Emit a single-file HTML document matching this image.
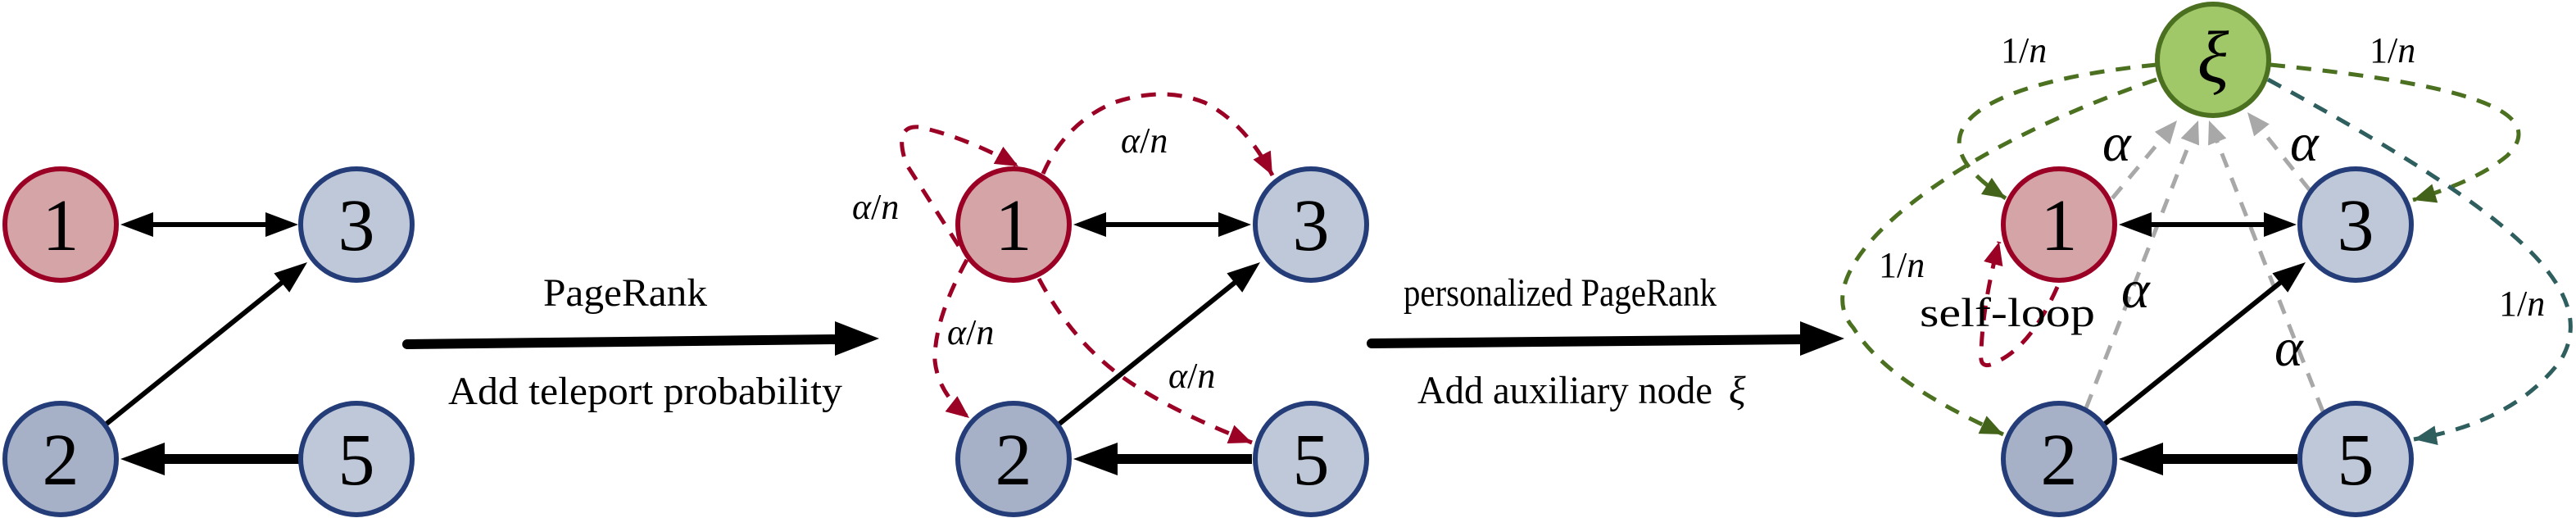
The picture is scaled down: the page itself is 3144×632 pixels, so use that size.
<!DOCTYPE html>
<html><head><meta charset="utf-8"><style>
html,body{margin:0;padding:0;background:#fff;}
svg{display:block;}
.num{font-size:90px;text-anchor:middle;}
.lab{font-size:44px;}
.it{font-style:italic;}
.big{font-size:48px;}
</style></head><body>
<svg width="3144" height="632" viewBox="0 0 3144 632" xmlns="http://www.w3.org/2000/svg" font-family="'Liberation Serif','DejaVu Serif',serif">
<defs>
<marker id="ar" markerUnits="userSpaceOnUse" markerWidth="30" markerHeight="26" refX="28" refY="12" orient="auto"><path d="M0,0 L28,12 L0,24 Z" fill="#9b0025"/></marker>
<marker id="ag" markerUnits="userSpaceOnUse" markerWidth="30" markerHeight="26" refX="28" refY="12" orient="auto"><path d="M0,0 L28,12 L0,24 Z" fill="#43621a"/></marker>
<marker id="at" markerUnits="userSpaceOnUse" markerWidth="30" markerHeight="26" refX="28" refY="12" orient="auto"><path d="M0,0 L28,12 L0,24 Z" fill="#2f5e5e"/></marker>
<marker id="agr" markerUnits="userSpaceOnUse" markerWidth="30" markerHeight="26" refX="28" refY="12" orient="auto"><path d="M0,0 L28,12 L0,24 Z" fill="#a8a8a8"/></marker>
<g id="blk">
<line x1="185" y1="274" x2="326" y2="274" stroke="#000" stroke-width="6"/>
<polygon points="147,274 187,259 187,289" fill="#000"/>
<polygon points="364,274 324,259 324,289" fill="#000"/>
<line x1="130" y1="517" x2="345" y2="344" stroke="#000" stroke-width="6"/>
<polygon points="375,320 353.2,356.8 334.4,333.4" fill="#000"/>
<line x1="365" y1="560" x2="198" y2="560" stroke="#000" stroke-width="12"/>
<polygon points="147,560 201,540 201,580" fill="#000"/>
</g>
</defs>

<!-- Panel 1 -->
<g>
<use href="#blk"/>
<circle cx="74" cy="274" r="68" fill="#d4a4a6" stroke="#9b0025" stroke-width="6"/>
<circle cx="435" cy="274" r="68" fill="#bfc8d8" stroke="#243d78" stroke-width="6"/>
<circle cx="74" cy="560" r="68" fill="#a6b1c8" stroke="#243d78" stroke-width="6"/>
<circle cx="435" cy="560" r="68" fill="#bfc8d8" stroke="#243d78" stroke-width="6"/>
<text class="num" x="74" y="305">1</text>
<text class="num" x="435" y="305">3</text>
<text class="num" x="74" y="591">2</text>
<text class="num" x="435" y="591">5</text>
</g>

<!-- Transition 1 -->
<line x1="497" y1="420" x2="1022" y2="414" stroke="#000" stroke-width="12" stroke-linecap="round"/>
<polygon points="1073,413 1019,392 1019,434" fill="#000"/>
<text class="big" x="663" y="373" textLength="200" lengthAdjust="spacingAndGlyphs">PageRank</text>
<text class="big" x="547" y="493" textLength="481" lengthAdjust="spacingAndGlyphs">Add teleport probability</text>

<!-- Panel 2 -->
<g>
<g fill="none" stroke="#9b0025" stroke-width="5" stroke-dasharray="18,14">
<path d="M1170,300 L1106,200 Q1090,152 1122,155 Q1180,168 1243,203" marker-end="url(#ar)"/>
<path d="M1273,212 Q1300,150 1360,125 Q1420,105 1470,125 Q1520,150 1553,214" marker-end="url(#ar)"/>
<path d="M1180,317 Q1140,390 1141,440 Q1145,480 1183,510" marker-end="url(#ar)"/>
<path d="M1268,340 Q1300,400 1345,440 Q1400,490 1528,540" marker-end="url(#ar)"/>
</g>
<use href="#blk" transform="translate(1163,0)"/>
<circle cx="1237" cy="274" r="68" fill="#d4a4a6" stroke="#9b0025" stroke-width="6"/>
<circle cx="1600" cy="274" r="68" fill="#bfc8d8" stroke="#243d78" stroke-width="6"/>
<circle cx="1237" cy="560" r="68" fill="#a6b1c8" stroke="#243d78" stroke-width="6"/>
<circle cx="1600" cy="560" r="68" fill="#bfc8d8" stroke="#243d78" stroke-width="6"/>
<text class="num" x="1237" y="305">1</text>
<text class="num" x="1600" y="305">3</text>
<text class="num" x="1237" y="591">2</text>
<text class="num" x="1600" y="591">5</text>
<text class="lab" x="1368" y="186"><tspan class="it">α</tspan>/<tspan class="it">n</tspan></text>
<text class="lab" x="1040" y="267"><tspan class="it">α</tspan>/<tspan class="it">n</tspan></text>
<text class="lab" x="1156" y="420"><tspan class="it">α</tspan>/<tspan class="it">n</tspan></text>
<text class="lab" x="1426" y="473"><tspan class="it">α</tspan>/<tspan class="it">n</tspan></text>
</g>

<!-- Transition 2 -->
<line x1="1674" y1="419" x2="2200" y2="414" stroke="#000" stroke-width="12" stroke-linecap="round"/>
<polygon points="2251,413 2197,392 2197,434" fill="#000"/>
<text class="big" x="1713" y="373" textLength="382" lengthAdjust="spacingAndGlyphs">personalized PageRank</text>
<text class="big" x="1730" y="492" textLength="360" lengthAdjust="spacingAndGlyphs">Add auxiliary node</text>
<text class="big it" x="2110" y="492">ξ</text>

<!-- Panel 3 -->
<g>
<g fill="none" stroke-width="5" stroke-dasharray="18,14">
<path d="M2632,79 C2420,100 2320,160 2448,242" stroke="#4b7020" marker-end="url(#ag)"/>
<path d="M2632,97 C2360,190 2200,330 2262,400 C2300,460 2380,500 2445,530" stroke="#4b7020" marker-end="url(#ag)"/>
<path d="M2771,79 C2980,100 3120,130 3060,190 C3030,215 2985,232 2945,244" stroke="#4b7020" marker-end="url(#ag)"/>
<path d="M2768,97 C3050,250 3180,350 3125,440 C3080,500 3010,525 2946,536" stroke="#2f5e5e" marker-end="url(#at)"/>
<path d="M2578,242 L2657,147" stroke="#a8a8a8" marker-end="url(#agr)"/>
<path d="M2546,498 L2683,147" stroke="#a8a8a8" marker-end="url(#agr)"/>
<path d="M2835,502 L2696,147" stroke="#a8a8a8" marker-end="url(#agr)"/>
<path d="M2819,232 L2743,137" stroke="#a8a8a8" marker-end="url(#agr)"/>
<path d="M2511,350 Q2480,420 2440,440 Q2415,455 2418,430 Q2420,370 2440,295" stroke="#9b0025" marker-end="url(#ar)"/>
</g>
<use href="#blk" transform="translate(2439,0)"/>
<circle cx="2701" cy="73" r="68" fill="#a0c868" stroke="#4b7020" stroke-width="6"/>
<circle cx="2513" cy="274" r="68" fill="#d4a4a6" stroke="#9b0025" stroke-width="6"/>
<circle cx="2875" cy="274" r="68" fill="#bfc8d8" stroke="#243d78" stroke-width="6"/>
<circle cx="2513" cy="560" r="68" fill="#a6b1c8" stroke="#243d78" stroke-width="6"/>
<circle cx="2875" cy="560" r="68" fill="#bfc8d8" stroke="#243d78" stroke-width="6"/>
<text class="num it" x="2701" y="100">ξ</text>
<text class="num" x="2513" y="305">1</text>
<text class="num" x="2875" y="305">3</text>
<text class="num" x="2513" y="591">2</text>
<text class="num" x="2875" y="591">5</text>
<text class="lab" x="2442" y="76"><tspan>1</tspan>/<tspan class="it">n</tspan></text>
<text class="lab" x="2892" y="76"><tspan>1</tspan>/<tspan class="it">n</tspan></text>
<text class="lab" x="2293" y="338"><tspan>1</tspan>/<tspan class="it">n</tspan></text>
<text class="lab" x="3050" y="385"><tspan>1</tspan>/<tspan class="it">n</tspan></text>
<text x="2343" y="398" style="font-size:50px" textLength="214" lengthAdjust="spacingAndGlyphs">self-loop</text>
<g style="font-size:66px;font-style:italic">
<text x="2566" y="196">α</text>
<text x="2795" y="196">α</text>
<text x="2589" y="375">α</text>
<text x="2776" y="446">α</text>
</g>
</g>
</svg>
</body></html>
